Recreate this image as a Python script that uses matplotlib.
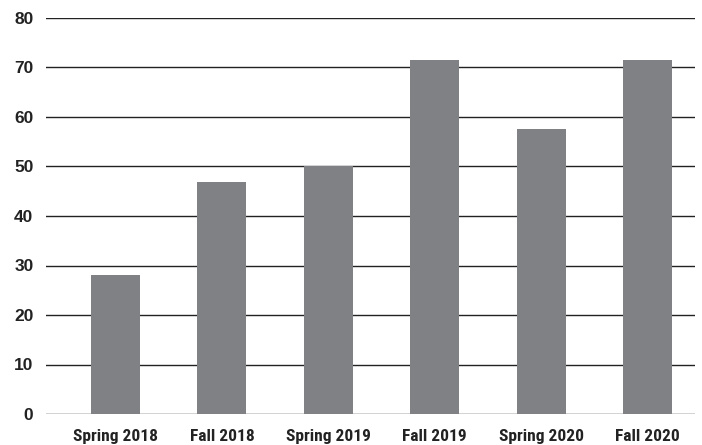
import matplotlib.pyplot as plt
import numpy as np

# semesters and values
semesters = ['Spring 2018', 'Fall 2018', 'Spring 2019', 'Fall 2019', 'Spring 2020', 'Fall 2020']
values = [28.1, 46.9, 50.1, 71.5, 57.6, 71.5]
y_ticks = [0, 10, 20, 30, 40, 50, 60, 70, 80]


def plot():

    fig = plt.figure(figsize=(7.02, 4.45), dpi=100)
    ax = fig.add_axes([46 / 702, 1 - 414 / 445, (695 - 46) / 702, (414 - 18) / 445])

    x = np.arange(len(semesters))
    ax.bar(x, values, width=0.46, color='#808184', zorder=3)

    ax.set_ylim(0, 80)
    ax.set_xlim(-0.653, 5.446)
    ax.set_yticks(y_ticks)
    ax.set_xticks(x)
    ax.set_xticklabels(semesters, family=['Roboto Condensed', 'IBM Plex Sans Condensed', 'DejaVu Sans'],
                       fontsize=12.5, fontweight='bold', color='#222222')
    ax.set_yticklabels([str(t) for t in y_ticks], family=['Liberation Sans', 'DejaVu Sans'],
                       fontsize=12.5, fontweight='bold', color='#222222')

    ax.yaxis.grid(True, color='#222222', linewidth=1.0, zorder=1)
    ax.set_axisbelow(True)
    for s in ax.spines.values():
        s.set_visible(False)
    ax.tick_params(axis='both', length=0)
    ax.tick_params(axis='y', pad=9)
    ax.tick_params(axis='x', pad=11)

    fig.savefig('out.png', dpi=100)


if __name__ == "__main__":
    plot()
